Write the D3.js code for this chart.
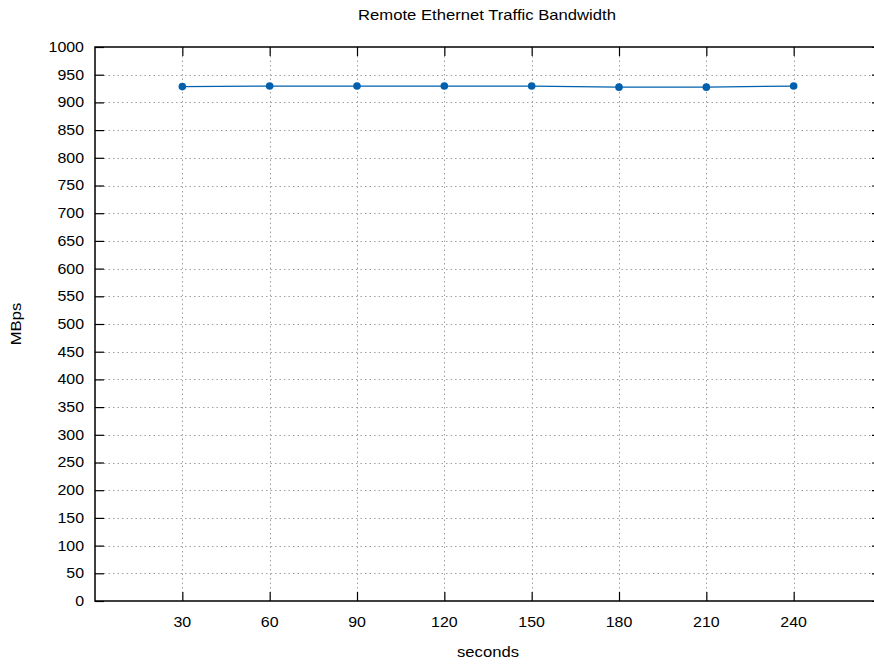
<!DOCTYPE html>
<html>
<head>
<meta charset="utf-8">
<script src="https://cdn.jsdelivr.net/npm/d3@7"></script>
<style>
  body { margin: 0; background: #fff; }
  text { font-family: "Liberation Sans", Arial, sans-serif; fill: #000; font-size: 14px; }
</style>
</head>
<body>
<script>
// data
var seconds = [30, 60, 90, 120, 150, 180, 210, 240];
var mbps = [928.5, 929.5, 929.5, 929.5, 929.5, 927.5, 927.5, 929.5];
var xTicks = [30, 60, 90, 120, 150, 180, 210, 240];
var yTicks = d3.range(0, 1001, 50);

var svgWidth = 874;
var svgHeight = 664;
// plot box (right edge runs past the window, like the original)
var margin = { top: 47, left: 95, bottom: 63 };
var plotRight = 881;
var height = svgHeight - margin.top - margin.bottom;

// the original font is a bit wider than Liberation Sans
var numStretch = 1.14;
var labelStretch = 1.19;

var svg = d3.select("body")
  .append("svg")
  .attr("width", svgWidth)
  .attr("height", svgHeight);

var x = d3.scaleLinear().domain([0, 270]).range([margin.left, plotRight]);
var y = d3.scaleLinear().domain([0, 1000]).range([margin.top + height, margin.top]);

var grid = svg.append("g")
  .attr("stroke", "#a0a0a0")
  .attr("stroke-width", 1)
  .attr("stroke-dasharray", "1.5,3");

// horizontal grid
grid.selectAll(".hgrid")
  .data(yTicks.filter(d => d > 0 && d < 1000))
  .enter()
  .append("line")
  .attr("x1", margin.left)
  .attr("x2", plotRight)
  .attr("y1", d => Math.round(y(d)) + 0.5)
  .attr("y2", d => Math.round(y(d)) + 0.5);

// vertical grid
grid.selectAll(".vgrid")
  .data(xTicks)
  .enter()
  .append("line")
  .attr("x1", d => Math.round(x(d)) + 0.5)
  .attr("x2", d => Math.round(x(d)) + 0.5)
  .attr("y1", y(1000))
  .attr("y2", y(0));

// axes with inward ticks
var leftAxis = d3.axisRight(y).tickValues(yTicks).tickSize(9).tickFormat("");
var rightAxis = d3.axisLeft(y).tickValues(yTicks).tickSize(9).tickFormat("");
var bottomAxis = d3.axisTop(x).tickValues(xTicks).tickSize(9).tickFormat("");
var topAxis = d3.axisBottom(x).tickValues(xTicks).tickSize(9).tickFormat("");

function styleAxis(g) {
  g.select(".domain").remove();
  g.selectAll(".tick line").attr("stroke", "#000").attr("stroke-width", 1.2);
}
svg.append("g").attr("transform", `translate(${margin.left},0)`).call(leftAxis).call(styleAxis);
svg.append("g").attr("transform", `translate(${plotRight},0)`).call(rightAxis).call(styleAxis);
svg.append("g").attr("transform", `translate(0,${y(0)})`).call(bottomAxis).call(styleAxis);
svg.append("g").attr("transform", `translate(0,${y(1000)})`).call(topAxis).call(styleAxis);

// border
svg.append("rect")
  .attr("x", margin.left)
  .attr("y", y(1000))
  .attr("width", plotRight - margin.left)
  .attr("height", height)
  .attr("fill", "none")
  .attr("stroke", "#000")
  .attr("stroke-width", 1.5);

// tick labels
svg.selectAll(".ylab")
  .data(yTicks)
  .enter()
  .append("text")
  .attr("transform", d => `translate(${margin.left - 11}, ${y(d)}) scale(${numStretch},1)`)
  .attr("dy", "0.35em")
  .attr("text-anchor", "end")
  .text(d => d);

svg.selectAll(".xlab")
  .data(xTicks)
  .enter()
  .append("text")
  .attr("transform", d => `translate(${x(d)}, ${y(0) + 26}) scale(${numStretch},1)`)
  .attr("text-anchor", "middle")
  .text(d => d);

// series
var line = d3.line()
  .x((d, i) => x(seconds[i]))
  .y(d => y(d));

svg.append("path")
  .datum(mbps)
  .attr("d", line)
  .attr("fill", "none")
  .attr("stroke", "#0060ad")
  .attr("stroke-width", 1.3);

svg.selectAll(".pt")
  .data(mbps)
  .enter()
  .append("circle")
  .attr("cx", (d, i) => x(seconds[i]))
  .attr("cy", d => y(d))
  .attr("r", 3.8)
  .attr("fill", "#0060ad");

// titles
svg.append("text")
  .attr("transform", `translate(487, 20) scale(${labelStretch},1)`)
  .attr("text-anchor", "middle")
  .text("Remote Ethernet Traffic Bandwidth");

svg.append("text")
  .attr("transform", `translate(488, 657) scale(${labelStretch},1)`)
  .attr("text-anchor", "middle")
  .text("seconds");

svg.append("text")
  .attr("transform", `translate(21, ${(y(0) + y(1000)) / 2}) rotate(-90) scale(${labelStretch},1)`)
  .attr("text-anchor", "middle")
  .text("MBps");
</script>
</body>
</html>
